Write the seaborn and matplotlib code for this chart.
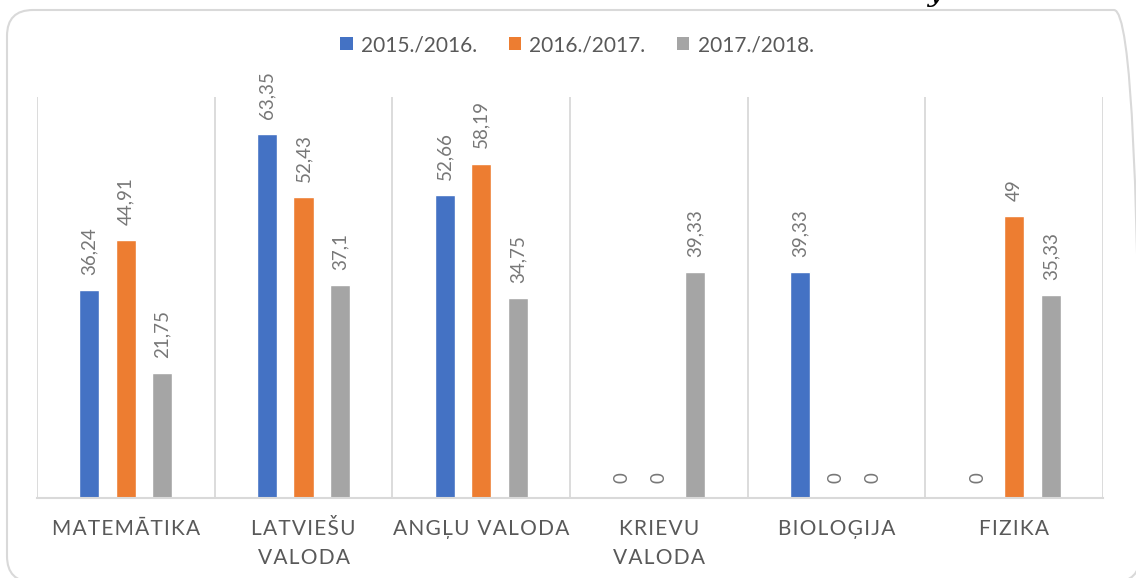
import matplotlib.pyplot as plt
import numpy as np
import pandas as pd
import seaborn as sns
from matplotlib.patches import FancyBboxPatch, Patch

subjects = ['MATEMĀTIKA', 'LATVIEŠU\nVALODA', 'ANGĻU VALODA', 'KRIEVU\nVALODA', 'BIOLOĢIJA', 'FIZIKA']
years = ['2015./2016.', '2016./2017.', '2017./2018.']
v_2015 = [36.24, 63.35, 52.66, 0, 39.33, 0]
v_2016 = [44.91, 52.43, 58.19, 0, 0, 49]
v_2017 = [21.75, 37.1, 34.75, 39.33, 0, 35.33]
colors = ['#4472C4', '#ED7D31', '#A5A5A5']

df = pd.DataFrame({
    'subject': subjects * 3,
    'year': [years[0]] * 6 + [years[1]] * 6 + [years[2]] * 6,
    'value': v_2015 + v_2016 + v_2017,
})

sns.set_theme(style='white')
plt.rcParams['font.family'] = ['Lato', 'DejaVu Sans']

fig = plt.figure(figsize=(11.36, 5.78), dpi=100)
ax = fig.add_axes([37 / 1136, 80 / 578, 1066 / 1136, 401 / 578])

sns.barplot(data=df, x='subject', y='value', hue='year', palette=colors,
            width=0.616, gap=0.45, ax=ax, legend=False, saturation=1)

for cont in ax.containers:
    labels = [f'{b.get_height():g}'.replace('.', ',') for b in cont]
    ax.bar_label(cont, labels=labels, rotation=90, padding=11,
                 fontsize=13.5, color='#777777')

ax.set_ylim(0, 69.8)
ax.set_xlim(-0.5, 5.5)
ax.set_yticks([])
ax.set_xlabel('')
ax.set_ylabel('')

# letter-spaced category labels (hair spaces between letters)
HS = '\u200a'
def spaced(s):
    return '\n'.join((HS + ' ' + HS).join(HS.join(w) for w in line.split(' '))
                     for line in s.split('\n'))

ax.set_xticks(range(len(subjects)))
ax.set_xticklabels([spaced(s) for s in subjects], fontsize=15, color='#595959',
                   linespacing=1.6)
ax.tick_params(axis='x', length=0, pad=15)

ax.set_xticks(np.arange(-0.5, len(subjects)), minor=True)
ax.tick_params(axis='x', which='minor', length=0)
ax.grid(which='minor', axis='x', color='#D9D9D9', lw=1.3)
ax.grid(which='major', axis='both', visible=False)
ax.set_axisbelow(True)

for s in ['left', 'top', 'right']:
    ax.spines[s].set_visible(False)
ax.spines['bottom'].set_color('#D9D9D9')
ax.spines['bottom'].set_linewidth(1.5)

handles = [Patch(facecolor=c, edgecolor='none') for c in colors]
fig.legend(handles, years, loc='center', bbox_to_anchor=(577 / 1136, 1 - 45 / 578),
           ncol=3, frameon=False, fontsize=15, labelcolor='#595959',
           handlelength=0.6, handleheight=0.6, handletextpad=0.4,
           columnspacing=1.5)

# chart frame
fig.add_artist(FancyBboxPatch((7, -4), 1133, 576 - 4 + 0,
                              boxstyle='round,pad=0,rounding_size=26',
                              transform=None, facecolor='none',
                              edgecolor='#D9D9D9', lw=1.5))
fig.text(0.823, 0.999, 'y', family='DejaVu Serif', style='italic',
         fontsize=20, ha='center', va='baseline', color='black')

fig.savefig('out.png', dpi=100)
